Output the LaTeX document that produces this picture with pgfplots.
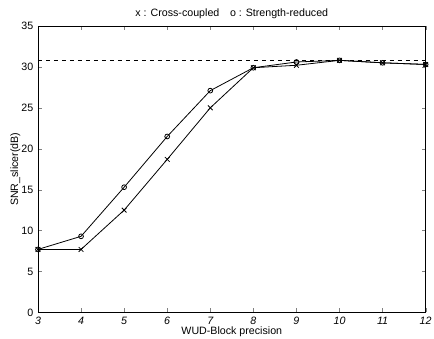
\documentclass[border=0pt]{standalone}
\usepackage{pgfplots}
\pgfplotsset{compat=1.18}
\usepackage{fontspec}
\setmainfont{Liberation Sans}
\begin{document}
\begin{tikzpicture}
\begin{axis}[
  scale only axis,
  width=291pt, height=215pt,
  xmin=3, xmax=12, ymin=0, ymax=35,
  xtick={3,4,5,6,7,8,9,10,11,12},
  ytick={0,5,10,15,20,25,30,35},
  tick align=inside,
  tick pos=both,
  major tick length=3pt,
  tick label style={font=\footnotesize\itshape},
  yticklabel style={font=\footnotesize},
  /pgf/number format/assume math mode=true,
  xlabel={WUD-Block precision},
  ylabel={SNR\_slicer(dB)},
  label style={font=\footnotesize},
  xlabel style={yshift=5pt},
  ylabel style={yshift=-6pt},
  title={x : Cross-coupled\quad o : Strength-reduced},
  title style={font=\footnotesize, yshift=-4pt},
  axis line style={line width=0.7pt},
  every axis plot/.append style={line width=0.6pt, black},
]
\addplot[mark=x, mark size=2.5pt] coordinates {
(3,7.7) (4,7.7) (5,12.5) (6,18.7) (7,25.0) (8,29.9) (9,30.2) (10,30.8) (11,30.5) (12,30.3)};
\addplot[mark=o, mark size=1.8pt] coordinates {
(3,7.7) (4,9.3) (5,15.3) (6,21.5) (7,27.1) (8,29.9) (9,30.6) (10,30.8) (11,30.5) (12,30.3)};
\addplot[dashed, no marks] coordinates {(3,30.8) (12,30.8)};
\end{axis}
\pgfresetboundingbox
\useasboundingbox ([xshift=-28.5pt,yshift=-19.5pt]current axis.south west) rectangle ([xshift=6.25pt,yshift=19.5pt]current axis.north east);
\end{tikzpicture}
\end{document}
